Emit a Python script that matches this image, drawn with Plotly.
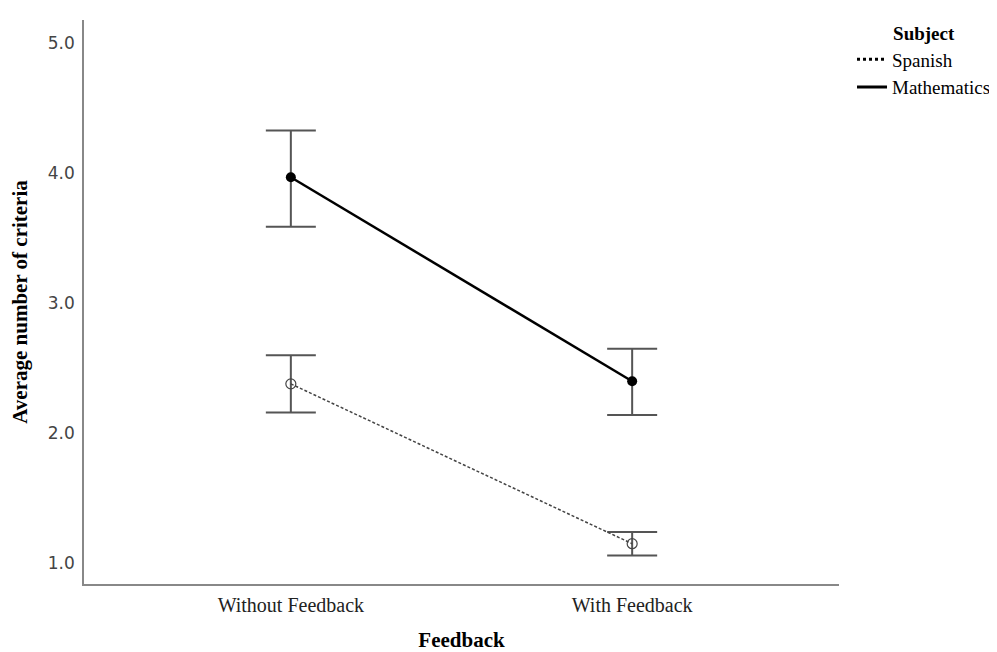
import plotly.graph_objects as go

categories = ["Without Feedback", "With Feedback"]
spanish_mean = [2.38, 1.15]
spanish_lower = [2.16, 1.06]
spanish_upper = [2.60, 1.24]
math_mean = [3.97, 2.40]
math_lower = [3.59, 2.14]
math_upper = [4.33, 2.65]
y_ticks = [1, 2, 3, 4, 5]

SERIF = "Liberation Serif, Times New Roman, serif"

def err(mean, lo, hi):
    return dict(type="data", symmetric=False,
                array=[h - m for m, h in zip(mean, hi)],
                arrayminus=[m - l for m, l in zip(mean, lo)],
                color="#555555", thickness=2, width=25)

fig = go.Figure()
fig.add_trace(go.Scatter(
    x=categories, y=spanish_mean, name="Spanish", mode="lines+markers",
    line=dict(color="#444444", width=1.5, dash="3px,2px"),
    marker=dict(symbol="circle-open", size=10, color="#444444", line=dict(width=1.2)),
    error_y=err(spanish_mean, spanish_lower, spanish_upper),
    showlegend=False,
))
fig.add_trace(go.Scatter(
    x=categories, y=math_mean, name="Mathematics", mode="lines+markers",
    line=dict(color="black", width=2.5),
    marker=dict(symbol="circle", size=10, color="black"),
    error_y=err(math_mean, math_lower, math_upper),
    showlegend=False,
))
# legend-only entries (line samples without markers, as in the original)
fig.add_trace(go.Scatter(x=[None], y=[None], name="Spanish", mode="lines",
                         line=dict(color="black", width=3, dash="dot")))
fig.add_trace(go.Scatter(x=[None], y=[None], name="Mathematics", mode="lines",
                         line=dict(color="black", width=3)))

# the page body adds an 8px offset, so the figure is sized to fit the window
fig.update_layout(
    width=989, height=644,
    margin=dict(l=76, r=158, t=12, b=68),
    paper_bgcolor="white", plot_bgcolor="white",
    font=dict(family=SERIF, color="black"),
    legend=dict(
        xref="container", yref="container",
        x=0.8534, y=0.988, xanchor="left", yanchor="top",
        title=dict(text="<b>Subject</b>", side="top center", font=dict(family=SERIF, size=19)),
        font=dict(family=SERIF, size=19),
        itemwidth=30, tracegroupgap=0,
        bgcolor="rgba(0,0,0,0)",
    ),
    xaxis=dict(
        type="category", range=[-0.606, 1.606], automargin=False,
        showline=True, linecolor="#888888", linewidth=1.5,
        showgrid=False, zeroline=False, ticks="",
        tickfont=dict(family=SERIF, size=20, color="#222222"),
        ticklabelstandoff=2,
        title=dict(text="<b>Feedback</b>", font=dict(family=SERIF, size=21), standoff=25),
    ),
    yaxis=dict(
        range=[0.84, 5.18], automargin=False,
        tickvals=y_ticks, ticktext=[f"{v:.1f}" for v in y_ticks],
        showline=True, linecolor="#888888", linewidth=1.5,
        showgrid=False, zeroline=False, ticks="",
        tickfont=dict(family="DejaVu Sans, sans-serif", size=17, color="#444444"),
        ticklabelstandoff=4,
        title=dict(text="<b>Average number of criteria</b>", font=dict(family=SERIF, size=21), standoff=20),
    ),
)

fig.write_html("out.html")
